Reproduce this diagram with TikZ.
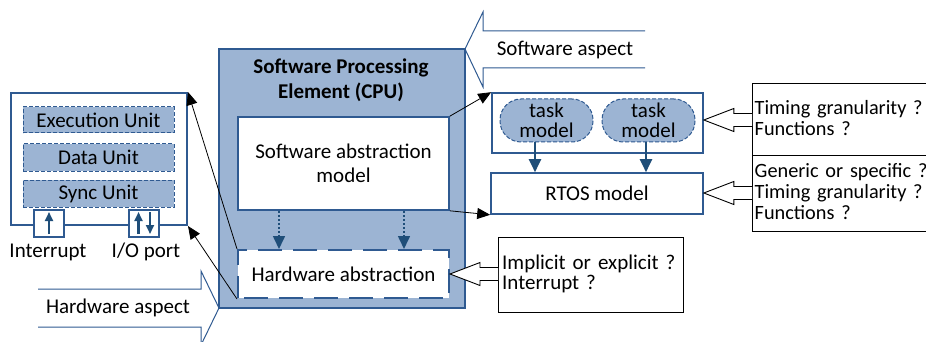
\documentclass[tikz,border=0pt]{standalone}
\usepackage{fontspec}
\setmainfont{Carlito}
\usetikzlibrary{arrows.meta,calc}
\definecolor{bdr}{HTML}{2F5A91}
\definecolor{lightfill}{HTML}{9CB4D3}
\definecolor{darkarr}{HTML}{1F4E79}
\tikzset{
  x=1pt, y=-1pt,
  every node/.style={font=\fontsize{21}{24}\selectfont, inner sep=0pt, align=center},
  bluebox/.style={draw=bdr, line width=1.6pt, fill=white},
  unitbox/.style={draw=bdr, line width=1pt, dash pattern=on 4pt off 2pt, fill=lightfill},
  taskbox/.style={draw=bdr, line width=1pt, dash pattern=on 4pt off 2pt, fill=lightfill, rounded corners=21pt},
  hwabs/.style={draw=bdr, line width=2pt, dash pattern=on 24pt off 11pt, dash phase=-6pt, fill=white},
  callbox/.style={draw=black, line width=0.9pt, fill=white},
  callout/.style={draw=black, line width=0.9pt, fill=white, line join=miter},
  aspect/.style={draw=bdr, line width=1pt, fill=white},
  blk/.style={draw=black, line width=0.8pt, -{Triangle[length=13pt,width=11pt]}},
  tarrow/.style={draw=darkarr, line width=2pt, -{Triangle[length=13pt,width=12pt]}},
  dotarrow/.style={draw=darkarr, line width=1.6pt, dash pattern=on 2pt off 2pt, -{Triangle[length=13pt,width=12pt]}},
  portarrow/.style={draw=darkarr, line width=2.2pt, -{Triangle[length=9pt,width=8pt]}},
  txt/.style={align=left, text width=180pt}
}
% hollow block arrow: #2 tip coordinate, #3 base coordinate (same height)
\newcommand{\blockarrow}[3][callout]{%
  \path[#1] ($(#3)+(0,-6.5)$) -- ($(#2)+(30,-6.5)$) -- ($(#2)+(30,-11.5)$) -- (#2)
    -- ($(#2)+(30,11.5)$) -- ($(#2)+(30,6.5)$) -- ($(#3)+(0,6.5)$);}
\begin{document}
\begin{tikzpicture}
\useasboundingbox (0,0) rectangle (926,342);
\fill[white] (0,0) rectangle (926,342);

% aspect arrows
\path[aspect] (645,31) -- (483,31) -- (483,12) -- (465,49) -- (483,87) -- (483,68) -- (645,68);
\node (swasp) at (565,50) {Software aspect};
\path[aspect] (38,289) -- (201,289) -- (201,271) -- (219,308) -- (201,345) -- (201,327) -- (38,327);
\node (hwasp) at (118,308) {Hardware aspect};

% hardware element
\node[bluebox, line width=2pt, minimum width=176pt, minimum height=132pt] (hwbox) at (99,159) {};
\node[unitbox, minimum width=151pt, minimum height=26pt] (exec) at (98.5,120) {Execution Unit};
\node[unitbox, minimum width=151pt, minimum height=27pt] (data) at (98.5,157.5) {Data Unit};
\node[unitbox, minimum width=151pt, minimum height=27pt] (sync) at (98.5,193.5) {Sync Unit};
\node[bluebox, line width=1.2pt, minimum width=30pt, minimum height=27pt] (irq) at (49,223.5) {};
\node[bluebox, line width=1.2pt, minimum width=30pt, minimum height=27pt] (io) at (144,223.5) {};
\coordinate (irqb) at (49,234);
\coordinate (irqt) at (49,212);
\draw[portarrow] (irqb) -- (irqt);
\coordinate (ioub) at (138.5,234);
\coordinate (iout) at (138.5,212);
\coordinate (iodt) at (150,212);
\coordinate (iodb) at (150,234);
\draw[portarrow] (ioub) -- (iout);
\draw[portarrow] (iodt) -- (iodb);
\node (irqlbl) at (48,252) {Interrupt};
\node (iolbl) at (146,252) {I/O port};

% processing element
\node[draw=bdr, line width=1.4pt, fill=lightfill, minimum width=246pt, minimum height=259pt] (cpu) at (342,178.5) {};
\node[font=\bfseries\fontsize{21}{25}\selectfont] (title) at (341,80.5) {Software Processing\\Element (CPU)};
\node[bluebox, minimum width=211pt, minimum height=93pt] (swm) at (343.5,163.5) {Software abstraction\\model};
\node[hwabs, minimum width=211pt, minimum height=48pt] (hwa) at (343.5,274) {Hardware abstraction};
\draw[dotarrow] (swm.south -| 279,0) -- (hwa.north -| 279,0);
\draw[dotarrow] (swm.south -| 404,0) -- (hwa.north -| 404,0);

% software side
\node[bluebox, minimum width=211pt, minimum height=60pt] (grp) at (597.5,123) {};
\node[taskbox, minimum width=93pt, minimum height=43pt, font=\fontsize{21}{20}\selectfont] (task1) at (546.5,120.5) {task\\model};
\node[taskbox, minimum width=93pt, minimum height=43pt, font=\fontsize{21}{20}\selectfont] (task2) at (648.5,120.5) {task\\model};
\node[bluebox, minimum width=212pt, minimum height=41pt] (rtos) at (597,193.5) {RTOS model};
\draw[tarrow] (task1.south -| 535,0) -- (rtos.north -| 535,0);
\draw[tarrow] (task2.south -| 646,0) -- (rtos.north -| 646,0);

% links between levels
\draw[blk] (swm.north east) -- (grp.north west);
\draw[blk] (swm.south east) -- (rtos.south west);
\draw[blk] (hwa.north west) -- (hwbox.north east);
\draw[blk] (hwa.south west) -- (hwbox.south east);

% question boxes
\node[callbox, minimum width=184pt, minimum height=72pt, anchor=north west] (q1) at (752,83) {};
\node[txt, anchor=west, font=\fontsize{20.3}{21}\selectfont] (q1t) at (754.5,118.5) {Timing granularity ?\\Functions ?};
\node[callbox, minimum width=184pt, minimum height=76pt, anchor=north west] (q2) at (752,155) {};
\node[txt, anchor=west, font=\fontsize{20.3}{21}\selectfont] (q2t) at (754.5,192) {Generic or specific ?\\Timing granularity ?\\Functions ?};
\node[callbox, minimum width=185pt, minimum height=75pt, anchor=north west] (q3) at (498,237) {};
\node[txt, anchor=west, font=\fontsize{21}{20}\selectfont] (q3t) at (502,273.5) {Implicit or explicit ?\\Interrupt ?};

\coordinate (tip1) at (grp.east |- 0,120);
\coordinate (base1) at (q1.west |- 0,120);
\blockarrow{tip1}{base1}
\coordinate (tip2) at (rtos.east |- 0,193);
\coordinate (base2) at (q2.west |- 0,193);
\blockarrow{tip2}{base2}
\coordinate (tip3) at (hwa.east |- 0,274);
\coordinate (base3) at (q3.west |- 0,274);
\blockarrow{tip3}{base3}
\end{tikzpicture}
\end{document}
